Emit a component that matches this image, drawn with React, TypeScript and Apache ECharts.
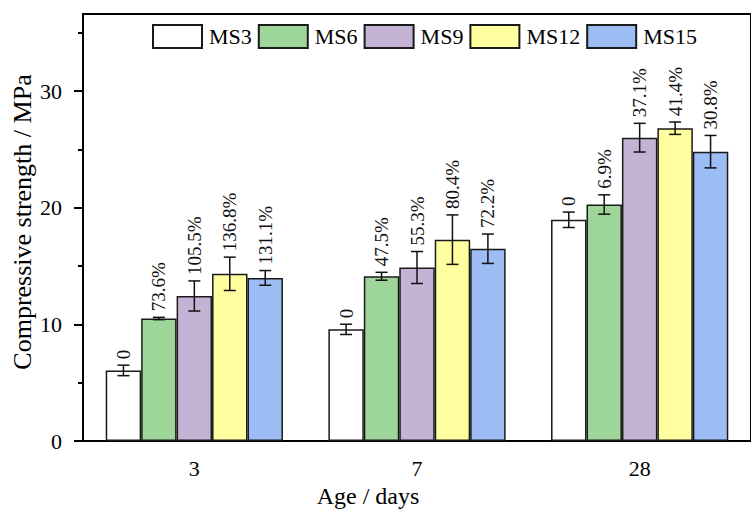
import React, { useEffect, useRef } from "react";
import * as echarts from "echarts";

// Curing ages on the category axis
const ages = ["3", "7", "28"];
const seriesNames = ["MS3", "MS6", "MS9", "MS12", "MS15"];
const seriesColors = ["#ffffff", "#9ed69a", "#c5b3d6", "#ffff9f", "#9dbdf5"];

// Mean compressive strength (MPa) per mix, one value per age
const ms3 = [6.05, 9.57, 18.96];
const ms6 = [10.5, 14.12, 20.27];
const ms9 = [12.43, 14.87, 26.0];
const ms12 = [14.33, 17.26, 26.81];
const ms15 = [13.98, 16.48, 24.8];

// Standard deviation (MPa)
const ms3Err = [0.45, 0.44, 0.66];
const ms6Err = [0.1, 0.34, 0.83];
const ms9Err = [1.29, 1.37, 1.23];
const ms12Err = [1.43, 2.12, 0.53];
const ms15Err = [0.63, 1.26, 1.39];

// Strength gain relative to MS3
const ms3Gain = ["0", "0", "0"];
const ms6Gain = ["73.6%", "47.5%", "6.9%"];
const ms9Gain = ["105.5%", "55.3%", "37.1%"];
const ms12Gain = ["136.8%", "80.4%", "41.4%"];
const ms15Gain = ["131.1%", "72.2%", "30.8%"];

// Axis ticks
const majorTicks = [0, 10, 20, 30];
const minorTicks = [5, 15, 25, 35];

const values = [ms3, ms6, ms9, ms12, ms15];
const errors = [ms3Err, ms6Err, ms9Err, ms12Err, ms15Err];
const gains = [ms3Gain, ms6Gain, ms9Gain, ms12Gain, ms15Gain];

const FONT = "Liberation Serif, serif";
const GAP_RATIO = 0.204;

export default function App() {
  const ref = useRef<HTMLDivElement>(null);

  useEffect(() => {
    if (!ref.current) return;
    const chart = echarts.init(ref.current, undefined, { renderer: "svg" });

    const rows: { c: number; s: number }[] = [];
    for (let s = 0; s < seriesNames.length; s++) {
      for (let c = 0; c < ages.length; c++) rows.push({ c, s });
    }

    const barSeries = seriesNames.map((name, s) => ({
      type: "bar",
      name,
      data: values[s],
      barGap: "0%",
      barCategoryGap: `${GAP_RATIO * 100}%`,
      itemStyle: {
        color: seriesColors[s],
        borderColor: "#1a1a1a",
        borderWidth: 1.5,
      },
      emphasis: { disabled: true },
    }));

    const errorSeries = {
      type: "custom",
      name: "error",
      data: rows.map((r) => [r.c, values[r.s][r.c]]),
      encode: { x: 0, y: 1 },
      z: 10,
      silent: true,
      renderItem: (params: any, api: any) => {
        const r = rows[params.dataIndex];
        const v = values[r.s][r.c];
        const e = errors[r.s][r.c];
        const center = api.coord([r.c, v]);
        const band = api.size([1, 0])[0];
        const bw = (band * (1 - GAP_RATIO)) / seriesNames.length;
        const x = center[0] + (r.s - (seriesNames.length - 1) / 2) * bw;
        const yTop = api.coord([r.c, v + e])[1];
        const yBot = api.coord([r.c, v - e])[1];
        const cap = 6;
        const lineStyle = { stroke: "#111", lineWidth: 1.5 };
        return {
          type: "group",
          children: [
            { type: "line", shape: { x1: x, y1: yTop, x2: x, y2: yBot }, style: lineStyle },
            { type: "line", shape: { x1: x - cap, y1: yTop, x2: x + cap, y2: yTop }, style: lineStyle },
            { type: "line", shape: { x1: x - cap, y1: yBot, x2: x + cap, y2: yBot }, style: lineStyle },
            {
              type: "text",
              x: x,
              y: yTop - 6,
              rotation: Math.PI / 2,
              style: {
                text: gains[r.s][r.c],
                fill: "#111",
                fontFamily: FONT,
                fontSize: 19,
                align: "left",
                verticalAlign: "middle",
              },
            },
          ],
        };
      },
    };

    chart.setOption({
      animation: false,
      textStyle: { fontFamily: FONT, color: "#000" },
      grid: {
        left: 83,
        right: -12.5,
        top: 14,
        bottom: 69,
        show: true,
        borderColor: "#000",
        borderWidth: 2,
        containLabel: false,
      },
      legend: {
        data: seriesNames.map((name) => ({ name, icon: "rect" })),
        left: 152,
        top: 24,
        padding: 0,
        itemWidth: 49,
        itemHeight: 23,
        itemGap: 6,
        selectedMode: false,
        textStyle: { fontFamily: FONT, fontSize: 22, color: "#000", padding: [0, 0, 0, 2] },
      },
      xAxis: {
        type: "category",
        data: ages,
        axisLine: { lineStyle: { color: "#000", width: 2 } },
        axisTick: { alignWithLabel: true, length: 9, lineStyle: { color: "#000", width: 2 } },
        axisLabel: { fontFamily: FONT, fontSize: 22, color: "#000", margin: 16 },
        splitLine: { show: false },
      },
      yAxis: [
        {
          type: "value",
          min: 0,
          max: 36.6,
          interval: 10,
          axisLine: { show: true, lineStyle: { color: "#000", width: 2 } },
          axisTick: { show: true, length: 9, customValues: majorTicks, lineStyle: { color: "#000", width: 2 } },
          axisLabel: { fontFamily: FONT, fontSize: 22, color: "#000", margin: 21, customValues: majorTicks },
          splitLine: { show: false },
        },
        {
          type: "value",
          min: 0,
          max: 36.6,
          interval: 10,
          position: "left",
          axisLine: { show: false },
          axisTick: { show: true, length: 5, customValues: minorTicks, lineStyle: { color: "#000", width: 2 } },
          axisLabel: { show: false },
          splitLine: { show: false },
        },
      ],
      graphic: [
        {
          type: "text",
          x: 368,
          y: 496,
          style: {
            text: "Age / days",
            fontFamily: FONT,
            fontSize: 24,
            fill: "#000",
            align: "center",
            verticalAlign: "middle",
          },
        },
        {
          type: "text",
          x: 22,
          y: 222,
          rotation: Math.PI / 2,
          style: {
            text: "Compressive strength / MPa",
            fontFamily: FONT,
            fontSize: 26,
            fill: "#000",
            align: "center",
            verticalAlign: "middle",
          },
        },
      ],
      series: [...barSeries, errorSeries],
    });

    return () => chart.dispose();
  }, []);

  return (
    <div
      ref={ref}
      style={{ position: "fixed", left: 0, top: 0, width: 751, height: 510, background: "#fff" }}
    />
  );
}
